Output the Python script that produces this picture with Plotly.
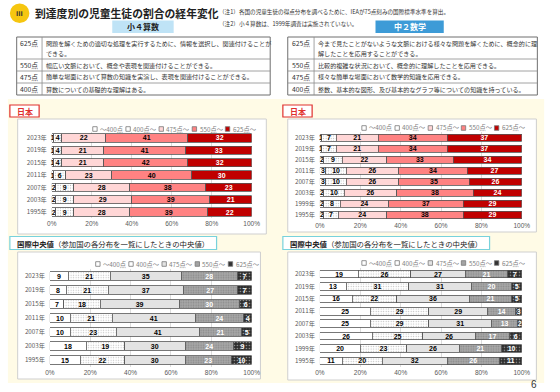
import plotly.graph_objects as go

# ---------------- data ----------------
levels = ["～400点", "400点～", "475点～", "550点～", "625点～"]
years_g4 = ["2023年", "2019年", "2015年", "2011年", "2007年", "2003年", "1995年"]
years_g8 = ["2023年", "2019年", "2015年", "2011年", "2007年", "2003年", "1999年", "1995年"]

# Japan, grade 4 math
jp4_lt400 = [1, 1, 1, 1, 2, 2, 2]
jp4_400 = [4, 4, 4, 6, 9, 9, 9]
jp4_475 = [22, 21, 21, 23, 28, 29, 28]
jp4_550 = [41, 41, 42, 40, 38, 39, 39]
jp4_625 = [32, 33, 32, 30, 23, 21, 22]

# Japan, grade 8 math
jp8_lt400 = [1, 1, 2, 3, 3, 2, 2, 2]
jp8_400 = [7, 7, 9, 10, 10, 10, 8, 7]
jp8_475 = [21, 21, 22, 26, 26, 26, 24, 24]
jp8_550 = [34, 34, 33, 34, 35, 38, 37, 38]
jp8_625 = [37, 37, 34, 27, 26, 24, 29, 29]

# International median, grade 4
int4_lt400 = [9, 8, 7, 10, 10, 18, 15]
int4_400 = [21, 21, 18, 21, 23, 19, 22]
int4_475 = [35, 37, 39, 41, 41, 30, 30]
int4_550 = [28, 27, 30, 24, 21, 24, 23]
int4_625 = [7, 7, 6, 4, 5, 9, 10]

# International median, grade 8
int8_lt400 = [19, 13, 16, 25, 25, 26, 20, 11]
int8_400 = [26, 31, 22, 29, 29, 25, 23, 20]
int8_475 = [27, 31, 36, 29, 31, 26, 26, 32]
int8_550 = [21, 20, 21, 14, 13, 17, 21, 26]
int8_625 = [7, 5, 5, 3, 2, 6, 10, 11]

x_ticks = [0, 20, 40, 60, 80, 100]
x_tick_labels = ["0%", "20%", "40%", "60%", "80%", "100%"]

table_g4 = [
    ("625点", "問題を解くための適切な処理を実行するために、情報を選択し、関連付けることが", "できる。"),
    ("550点", "幅広い文脈において、概念や表現を関連付けることができる。", None),
    ("475点", "簡単な場面において算数の知識を実演し、表現を関連付けることができる。", None),
    ("400点", "算数についての基礎的な理解はある。", None),
]
table_g8 = [
    ("625点", "今まで見たことがないような文脈における様々な問題を解くために、概念的に理", "解したことを応用することができる。"),
    ("550点", "比較的複雑な状況において、概念的に理解したことを応用できる。", None),
    ("475点", "様々な簡単な場面において数学的知識を応用できる。", None),
    ("400点", "整数、基本的な図形、及び基本的なグラフ等についての知識を持っている。", None),
]

# ---------------- helpers ----------------
W, H = 560, 392
def fx(x):
    return x / W
def fy(y):
    return 1 - y / H

JP = "Noto Sans CJK JP"
NUM = "Liberation Sans, Noto Sans CJK JP"

jp_styles = [
    dict(color="white", pattern=None, tc="#000"),
    dict(color="white", pattern=dict(shape=".", fgcolor="#b8b8b8", bgcolor="white", size=2.5, solidity=0.15), tc="#000"),
    dict(color="#ffd6d6", pattern=None, tc="#000"),
    dict(color="#ff8282", pattern=None, tc="#000"),
    dict(color="#c00000", pattern=None, tc="#fff"),
]
int_styles = [
    dict(color="white", pattern=None, tc="#000"),
    dict(color="white", pattern=dict(shape=".", fgcolor="#c0c0c0", bgcolor="white", size=2.5, solidity=0.2), tc="#000"),
    dict(color="#e3e3e3", pattern=None, tc="#000"),
    dict(color="#a3a3a3", pattern=dict(shape=".", fgcolor="#8a8a8a", bgcolor="#a8a8a8", size=2.5, solidity=0.3), tc="#fff"),
    dict(color="#333333", pattern=dict(shape=".", fgcolor="#9a9a9a", bgcolor="#2e2e2e", size=3, solidity=0.2), tc="#fff"),
]

charts = [
    dict(years=years_g4, data=[jp4_lt400, jp4_400, jp4_475, jp4_550, jp4_625], styles=jp_styles,
         px=(48, 253), py=(131.8, 218.2), width=0.66, box=(13, 119, 268, 234), leg=(90, 129)),
    dict(years=years_g8, data=[jp8_lt400, jp8_400, jp8_475, jp8_550, jp8_625], styles=jp_styles,
         px=(323, 530), py=(132.2, 220.5), width=0.64, box=(290, 119, 545, 232), leg=(366, 128)),
    dict(years=years_g4, data=[int4_lt400, int4_400, int4_475, int4_550, int4_625], styles=int_styles,
         px=(46, 253), py=(269, 367), width=0.58, box=(13, 252, 262, 379), leg=(93, 264)),
    dict(years=years_g8, data=[int8_lt400, int8_400, int8_475, int8_550, int8_625], styles=int_styles,
         px=(323, 530), py=(267.8, 367.2), width=0.6, box=(290, 252, 545, 380), leg=(366, 263)),
]

fig = go.Figure()
layout_axes = {}
shapes = []
annotations = []

# background panel
shapes.append(dict(type="rect", xref="paper", yref="paper", x0=fx(3), x1=fx(553), y0=fy(383), y1=fy(99),
                   fillcolor="#fffbe6", line=dict(width=0), layer="below"))

for i, c in enumerate(charts):
    n = "" if i == 0 else str(i + 1)
    xa, ya = "x" + n, "y" + n
    for lvl, vals, st in zip(levels, c["data"], c["styles"]):
        marker = dict(color=st["color"], line=dict(color="#555555", width=0.8))
        if st["pattern"]:
            marker["pattern"] = dict(fillmode="replace", **st["pattern"])
        fig.add_trace(go.Bar(
            x=vals, y=c["years"], orientation="h", name=lvl, xaxis=xa, yaxis=ya,
            width=c["width"], marker=marker, showlegend=False,
            text=vals, texttemplate="<b>%{text}</b>", textposition="inside", insidetextanchor="middle",
            textangle=0, textfont=dict(size=7, color=st["tc"], family=NUM),
            hoverinfo="skip", cliponaxis=False,
        ))
    layout_axes["xaxis" + n] = dict(
        domain=[fx(c["px"][0]), fx(c["px"][1])], anchor=ya, range=[0, 100],
        tickmode="array", tickvals=x_ticks, ticktext=x_tick_labels,
        showgrid=True, gridcolor="#dcdcdc", gridwidth=1,
        zeroline=False, showline=False, ticks="", tickfont=dict(size=6.5, color="#595959", family=NUM),
        fixedrange=True)
    layout_axes["yaxis" + n] = dict(
        domain=[fy(c["py"][1]), fy(c["py"][0])], anchor=xa, type="category",
        categoryorder="array", categoryarray=c["years"], autorange="reversed",
        showgrid=False, zeroline=False, ticks="", ticklabelstandoff=4,
        tickfont=dict(size=6.2, color="#595959", family=JP), fixedrange=True)
    bx0, by0, bx1, by1 = c["box"]
    shapes.append(dict(type="rect", xref="paper", yref="paper", x0=fx(bx0), x1=fx(bx1), y0=fy(by1), y1=fy(by0),
                       fillcolor="white", line=dict(color="#cfcfcf", width=1), layer="below"))
    lx, ly = c["leg"]
    for k, (lvl, st) in enumerate(zip(levels, c["styles"])):
        sx = lx + 34 * k
        shapes.append(dict(type="rect", xref="paper", yref="paper", x0=fx(sx), x1=fx(sx + 4.5),
                           y0=fy(ly + 2.3), y1=fy(ly - 2.3), fillcolor=st["color"],
                           line=dict(color="#777777", width=0.8)))
        annotations.append(dict(xref="paper", yref="paper", x=fx(sx + 5.5), y=fy(ly), text=lvl,
                                showarrow=False, xanchor="left", yanchor="middle",
                                font=dict(size=6.3, color="#808080", family=JP)))

# "日本" labels
for x0 in (5, 285):
    shapes.append(dict(type="rect", xref="paper", yref="paper", x0=fx(x0), x1=fx(x0 + 30), y0=fy(117), y1=fy(105),
                       fillcolor="white", line=dict(color="#e0302d", width=1.2)))
    annotations.append(dict(xref="paper", yref="paper", x=fx(x0 + 15), y=fy(111), text="<b>日本</b>",
                            showarrow=False, xanchor="center", yanchor="middle",
                            font=dict(size=8, color="#e0302d", family=JP)))

# 国際中央値 labels
for x0 in (5, 285):
    shapes.append(dict(type="rect", xref="paper", yref="paper", x0=fx(x0), x1=fx(x0 + 212), y0=fy(249.5), y1=fy(236.5),
                       fillcolor="white", line=dict(color="#78d2dc", width=1.2)))
    annotations.append(dict(xref="paper", yref="paper", x=fx(x0 + 5), y=fy(243),
                            text="<b>国際中央値</b>（参加国の各分布を一覧にしたときの中央値）",
                            showarrow=False, xanchor="left", yanchor="middle",
                            font=dict(size=7.4, color="#222222", family=JP)))

# tables
def add_table(x0, x1, xc, rows):
    ys = [37, 59, 71, 83, 95]
    shapes.append(dict(type="rect", xref="paper", yref="paper", x0=fx(x0), x1=fx(x1), y0=fy(ys[-1]), y1=fy(ys[0]),
                       fillcolor="white", line=dict(color="#6f6f6f", width=1)))
    for y in ys[1:-1]:
        shapes.append(dict(type="line", xref="paper", yref="paper", x0=fx(x0), x1=fx(x1), y0=fy(y), y1=fy(y),
                           line=dict(color="#8a8a8a", width=0.8)))
    shapes.append(dict(type="line", xref="paper", yref="paper", x0=fx(xc), x1=fx(xc), y0=fy(ys[-1]), y1=fy(ys[0]),
                       line=dict(color="#8a8a8a", width=0.8)))
    for r, (score, line1, line2) in enumerate(rows):
        top, bot = ys[r], ys[r + 1]
        y1 = top + 6 if line2 else (top + bot) / 2
        annotations.append(dict(xref="paper", yref="paper", x=fx((x0 + xc) / 2), y=fy(y1), text=score,
                                showarrow=False, xanchor="center", yanchor="middle",
                                font=dict(size=6.8, color="#333333", family=JP)))
        annotations.append(dict(xref="paper", yref="paper", x=fx(xc + 2), y=fy(y1), text=line1,
                                showarrow=False, xanchor="left", yanchor="middle",
                                font=dict(size=6.1, color="#333333", family=JP)))
        if line2:
            annotations.append(dict(xref="paper", yref="paper", x=fx(xc + 2), y=fy(top + 16), text=line2,
                                    showarrow=False, xanchor="left", yanchor="middle",
                                    font=dict(size=6.1, color="#333333", family=JP)))

add_table(12, 272, 38, table_g4)
add_table(290, 546, 317, table_g8)

# header elements
shapes.append(dict(type="circle", xref="paper", yref="paper", x0=fx(5), x1=fx(25), y0=fy(23), y1=fy(3.5),
                   fillcolor="#f6c610", line=dict(width=0)))
annotations.append(dict(xref="paper", yref="paper", x=fx(15), y=fy(13.5), text="<b>iii</b>", showarrow=False,
                        xanchor="center", yanchor="middle", font=dict(size=8, color="#333333", family=NUM)))
annotations.append(dict(xref="paper", yref="paper", x=fx(29), y=fy(13), text="<b>到達度別の児童生徒の割合の経年変化</b>",
                        showarrow=False, xanchor="left", yanchor="middle", font=dict(size=10.8, color="#222222", family=JP)))
annotations.append(dict(xref="paper", yref="paper", x=fx(217), y=fy(12.5),
                        text="（注1）各国の児童生徒の得点分布を調べるために、IEAが75点刻みの国際標準水準を算出。",
                        showarrow=False, xanchor="left", yanchor="middle", font=dict(size=5.6, color="#333333", family=JP)))
annotations.append(dict(xref="paper", yref="paper", x=fx(217), y=fy(23.5),
                        text="（注2）小４算数は、1999年調査は実施されていない。",
                        showarrow=False, xanchor="left", yanchor="middle", font=dict(size=5.6, color="#333333", family=JP)))
shapes.append(dict(type="rect", xref="paper", yref="paper", x0=fx(110), x1=fx(173), y0=fy(33), y1=fy(20.5),
                   fillcolor="#bfe3f6", line=dict(width=0)))
annotations.append(dict(xref="paper", yref="paper", x=fx(141.5), y=fy(27), text="<b>小４算数</b>", showarrow=False,
                        xanchor="center", yanchor="middle", font=dict(size=8, color="#222222", family=JP)))
shapes.append(dict(type="rect", xref="paper", yref="paper", x0=fx(380), x1=fx(450), y0=fy(33), y1=fy(20.5),
                   fillcolor="#3d9bd7", line=dict(width=0)))
annotations.append(dict(xref="paper", yref="paper", x=fx(415), y=fy(27), text="<b>中２数学</b>", showarrow=False,
                        xanchor="center", yanchor="middle", font=dict(size=8, color="white", family=JP)))
annotations.append(dict(xref="paper", yref="paper", x=fx(543), y=fy(384), text="6", showarrow=False,
                        xanchor="center", yanchor="middle", font=dict(size=10, color="#333333", family=NUM)))

fig.update_layout(
    width=W, height=H, margin=dict(l=0, r=0, t=0, b=0),
    paper_bgcolor="white", plot_bgcolor="rgba(0,0,0,0)",
    barmode="stack", showlegend=False,
    uniformtext=dict(minsize=7, mode="show"),
    shapes=shapes, annotations=annotations,
    font=dict(family=JP),
    **layout_axes,
)

fig.write_html("out.html", config={"displayModeBar": False},
               post_script="document.body.style.margin='0px';document.body.style.overflow='hidden';")
